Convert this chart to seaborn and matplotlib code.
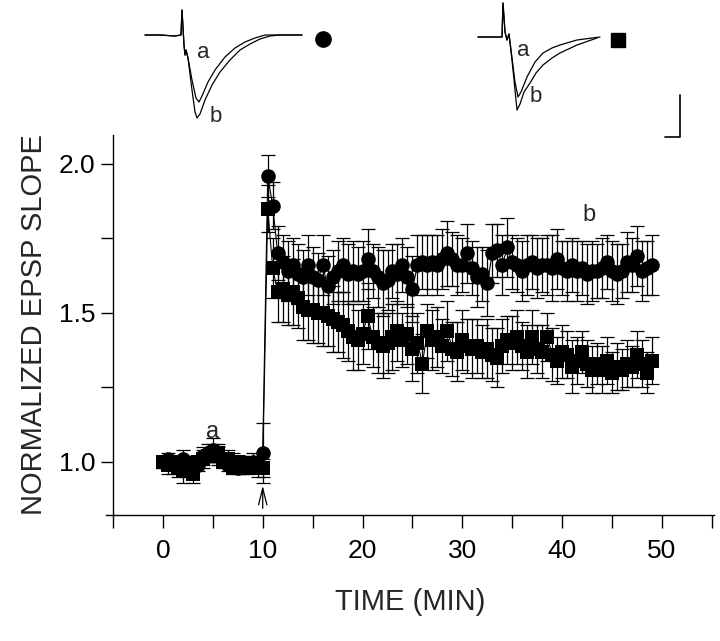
import numpy as np
import pandas as pd
import matplotlib
matplotlib.use("Agg")
import matplotlib.pyplot as plt
import seaborn as sns

# sampling times (min), one point every 30 s
time = np.arange(0, 49.5, 0.5)

# normalized EPSP slope, circle group
circle_vals = [1.00, 1.01, 0.99, 1.00, 1.01, 0.98, 1.00, 0.99, 1.02, 1.03,
               1.04, 1.02, 1.01, 0.99, 1.00, 0.98, 1.00, 0.99, 1.00, 0.99,
               1.03,
               1.96, 1.86, 1.70, 1.67, 1.64, 1.66, 1.63, 1.62, 1.66, 1.62,
               1.61, 1.66, 1.59, 1.62, 1.64, 1.66, 1.63, 1.64, 1.63, 1.64,
               1.68, 1.64, 1.62, 1.60, 1.61, 1.64, 1.63, 1.66, 1.62, 1.58,
               1.66, 1.67, 1.66, 1.67, 1.66, 1.68, 1.70, 1.68, 1.66, 1.66,
               1.70, 1.65, 1.62, 1.63, 1.60, 1.70, 1.71, 1.66, 1.72, 1.67,
               1.66, 1.64, 1.66, 1.67, 1.65, 1.66, 1.66, 1.65, 1.68, 1.65,
               1.64, 1.66, 1.64, 1.65, 1.63, 1.64, 1.64, 1.65, 1.67, 1.64,
               1.63, 1.64, 1.67, 1.66, 1.69, 1.64, 1.65, 1.66]
circle_err = [0.02, 0.02, 0.03, 0.02, 0.03, 0.03, 0.02, 0.02, 0.03, 0.03,
              0.04, 0.03, 0.02, 0.02, 0.03, 0.02, 0.02, 0.02, 0.03, 0.02,
              0.10,
              0.07, 0.08, 0.09, 0.09, 0.10, 0.09, 0.10, 0.09, 0.10, 0.10,
              0.09, 0.10, 0.10, 0.09, 0.10, 0.09, 0.10, 0.10, 0.09, 0.10,
              0.10, 0.09, 0.10, 0.11, 0.10, 0.09, 0.10, 0.09, 0.10, 0.11,
              0.10, 0.09, 0.10, 0.09, 0.10, 0.10, 0.11, 0.09, 0.10, 0.09,
              0.10, 0.09, 0.10, 0.09, 0.11, 0.10, 0.09, 0.10, 0.10, 0.09,
              0.09, 0.10, 0.10, 0.09, 0.10, 0.09, 0.10, 0.11, 0.10, 0.09,
              0.10, 0.09, 0.10, 0.09, 0.10, 0.10, 0.09, 0.10, 0.09, 0.10,
              0.10, 0.09, 0.10, 0.09, 0.10, 0.10, 0.09, 0.10]

# normalized EPSP slope, square group
square_vals = [1.00, 0.99, 1.00, 0.98, 0.97, 0.99, 0.96, 1.00, 1.01, 1.02,
               1.03, 1.03, 1.00, 1.01, 0.98, 1.00, 0.99, 0.98, 0.99, 0.98,
               0.98,
               1.85, 1.65, 1.57, 1.58, 1.56, 1.57, 1.55, 1.52, 1.51, 1.51,
               1.50, 1.50, 1.49, 1.48, 1.47, 1.46, 1.44, 1.42, 1.41, 1.43,
               1.49, 1.42, 1.40, 1.39, 1.40, 1.42, 1.44, 1.41, 1.43, 1.38,
               1.40, 1.33, 1.44, 1.41, 1.42, 1.39, 1.44, 1.38, 1.37, 1.41,
               1.39, 1.38, 1.39, 1.37, 1.38, 1.36, 1.35, 1.39, 1.41, 1.40,
               1.42, 1.39, 1.37, 1.42, 1.38, 1.37, 1.42, 1.36, 1.34, 1.37,
               1.36, 1.32, 1.34, 1.37, 1.33, 1.31, 1.33, 1.31, 1.34, 1.30,
               1.32, 1.31, 1.33, 1.32, 1.36, 1.33, 1.30, 1.34]
square_err = [0.02, 0.03, 0.02, 0.03, 0.04, 0.03, 0.03, 0.02, 0.03, 0.02,
              0.03, 0.03, 0.02, 0.03, 0.02, 0.02, 0.03, 0.02, 0.02, 0.03,
              0.03,
              0.08, 0.10, 0.10, 0.11, 0.10, 0.11, 0.10, 0.11, 0.10, 0.11,
              0.10, 0.11, 0.10, 0.11, 0.10, 0.11, 0.10, 0.11, 0.10, 0.10,
              0.11, 0.10, 0.10, 0.11, 0.10, 0.11, 0.10, 0.09, 0.10, 0.11,
              0.10, 0.10, 0.09, 0.10, 0.10, 0.09, 0.10, 0.09, 0.10, 0.10,
              0.09, 0.10, 0.09, 0.09, 0.10, 0.09, 0.10, 0.09, 0.08, 0.09,
              0.09, 0.08, 0.09, 0.09, 0.08, 0.09, 0.08, 0.09, 0.08, 0.09,
              0.08, 0.09, 0.08, 0.07, 0.08, 0.08, 0.07, 0.08, 0.08, 0.07,
              0.08, 0.07, 0.08, 0.07, 0.08, 0.08, 0.07, 0.08]

# example EPSP traces (ms, mV), a = baseline, b = after tetanus
left_a_t = [-3.7, -2.2, -0.7, -0.1, 0.0, 0.2, 0.3, 0.4, 0.6, 1.0, 1.4, 1.7, 2.0,
            2.6, 3.3, 4.3, 5.3, 6.3, 7.3, 8.3, 9.8, 12.0]
left_a_v = [0, 0, -0.05, 0, 1.25, -0.5, -1.0, -0.75, -1.15, -2.25, -3.15, -3.35,
            -3.05, -2.35, -1.75, -1.1, -0.65, -0.35, -0.15, 0, 0, 0]
left_b_t = [-3.7, -2.2, -0.7, -0.1, 0.0, 0.2, 0.3, 0.4, 0.6, 1.0, 1.3, 1.5, 1.8,
            2.3, 3.0, 3.8, 4.8, 5.8, 6.8, 7.8, 8.8, 9.8, 12.0]
left_b_v = [0, 0, -0.05, 0, 1.25, -0.5, -1.0, -0.75, -1.15, -2.75, -3.85, -4.15,
            -3.95, -3.25, -2.5, -1.85, -1.25, -0.75, -0.45, -0.2, -0.05, 0, 0]
right_a_t = [-2.5, -1.3, -0.3, -0.1, 0.0, 0.2, 0.4, 0.6, 0.9, 1.2, 1.5, 1.8, 2.4,
             3.2, 4.0, 4.9, 5.7, 7.4, 9.7]
right_a_v = [0, 0, 0, 0, 1.7, 0.25, -0.15, 0.15, -1.05, -2.25, -3.0, -2.75, -2.0,
             -1.25, -0.8, -0.55, -0.4, -0.15, 0]
right_b_t = [-2.5, -1.3, -0.3, -0.1, 0.0, 0.2, 0.4, 0.6, 0.9, 1.2, 1.4, 1.7, 2.1,
             2.7, 3.3, 4.0, 4.9, 5.7, 7.4, 9.4]
right_b_v = [0, 0, 0, 0, 1.7, 0.25, -0.15, 0.15, -1.15, -2.65, -3.65, -3.35, -2.75,
             -2.3, -1.8, -1.4, -1.05, -0.8, -0.4, -0.05]

sns.set_style("ticks")
plt.rcParams["font.family"] = ["Liberation Sans", "DejaVu Sans"]

df = pd.DataFrame({
    "time": np.concatenate([time, time]),
    "slope": circle_vals + square_vals,
    "group": ["circle"] * len(time) + ["square"] * len(time),
})

fig = plt.figure(figsize=(7.2, 6.41), dpi=100)
ax = fig.add_axes([0.1472, 0.1966, 0.8444, 0.5928])

# error bars first so markers sit on top
ax.errorbar(time, square_vals, yerr=square_err, fmt="none", ecolor="black",
            elinewidth=0.9, capsize=5, capthick=0.9, zorder=1)
ax.errorbar(time, circle_vals, yerr=circle_err, fmt="none", ecolor="black",
            elinewidth=0.9, capsize=5, capthick=0.9, zorder=1)

sns.lineplot(data=df, x="time", y="slope", hue="group", style="group",
             markers={"circle": "o", "square": "s"}, dashes=False,
             palette={"circle": "black", "square": "black"},
             markersize=10.5, markeredgewidth=0, linewidth=0.8,
             legend=False, ax=ax, zorder=3)

ax.set_xlim(-5.7, 55.2)
ax.set_ylim(0.822, 2.097)
ax.set_xticks([0, 10, 20, 30, 40, 50])
ax.set_xticks([-5, 5, 15, 25, 35, 45, 55], minor=True)
ax.set_yticks([1.0, 1.5, 2.0])
ax.set_yticks([1.25, 1.75], minor=True)
ax.set_yticklabels(["1.0", "1.5", "2.0"])
ax.tick_params(which="both", direction="out", length=9, width=1, colors="black",
               labelsize=19)
ax.tick_params(axis="x", pad=8)
ax.spines["top"].set_visible(False)
ax.spines["right"].set_visible(False)
ax.spines["left"].set_position(("data", -5))
for sp in ("left", "bottom"):
    ax.spines[sp].set_linewidth(1)
    ax.spines[sp].set_color("black")

ax.set_xlabel("TIME (MIN)", fontsize=21, labelpad=18)
ax.set_ylabel("NORMALIZED EPSP SLOPE", fontsize=21, labelpad=8)

ax.text(5.0, 1.10, "a", fontsize=17, ha="center", va="center")
ax.text(42.7, 1.83, "b", fontsize=17, ha="center", va="center")
ax.annotate("", xy=(10, 0.93), xytext=(10, 0.835),
            arrowprops=dict(arrowstyle="->,head_length=1.2,head_width=0.3",
                            lw=0.9, color="black"))

# inset traces
left_in = fig.add_axes([140 / 720, 1 - 140 / 641, 200 / 720, 140 / 641])
left_in.plot(left_a_t, left_a_v, color="black", lw=0.9)
left_in.plot(left_b_t, left_b_v, color="black", lw=0.9)
left_in.plot([14.1], [-0.2], "o", color="black", ms=11)
left_in.text(2.1, -0.85, "a", fontsize=16, ha="center", va="center")
left_in.text(3.4, -4.1, "b", fontsize=16, ha="center", va="center")
left_in.set_xlim(-4.2, 15.8)
left_in.set_ylim(-5.25, 1.75)
left_in.axis("off")

right_in = fig.add_axes([470 / 720, 1 - 140 / 641, 230 / 720, 140 / 641])
right_in.plot(right_a_t, right_a_v, color="black", lw=0.9)
right_in.plot(right_b_t, right_b_v, color="black", lw=0.9)
right_in.plot([11.5], [-0.15], "s", color="black", ms=10)
right_in.text(2.0, -0.65, "a", fontsize=16, ha="center", va="center")
right_in.text(3.3, -2.95, "b", fontsize=16, ha="center", va="center")
# scale bar
right_in.plot([16.2, 17.7, 17.7], [-5.0, -5.0, -2.9], color="black", lw=1.2)
right_in.set_xlim(-3.3, 19.7)
right_in.set_ylim(-5.15, 1.85)
right_in.axis("off")

fig.savefig("out.png", dpi=100)
